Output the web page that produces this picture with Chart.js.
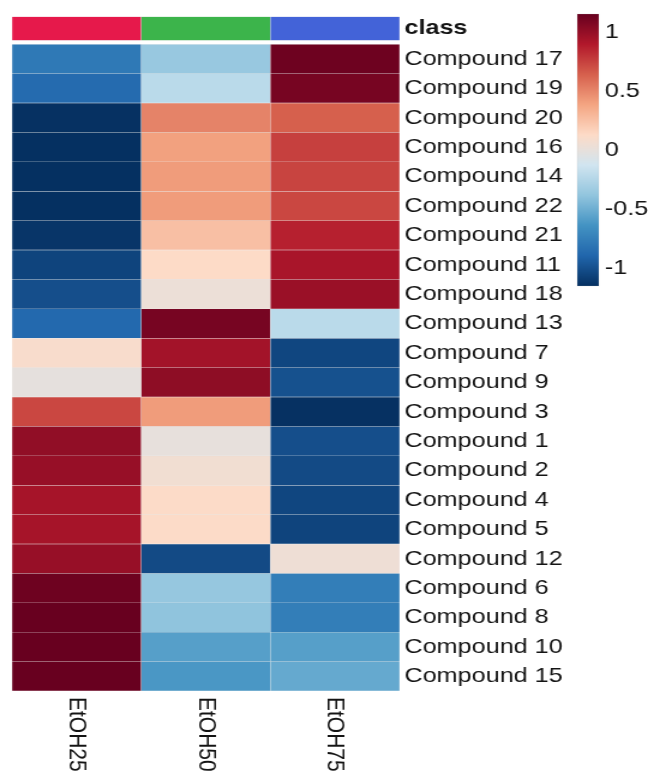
<!DOCTYPE html>
<html>
<head>
<meta charset="utf-8">
<script src="https://cdn.jsdelivr.net/npm/chart.js@4.4.1/dist/chart.umd.min.js"></script>
<style>
  html, body { margin: 0; padding: 0; background: #fff; overflow: hidden; }
  /* el lienzo se dibuja a 540 px y se estira a 648 px, como la figura original */
  #envoltura { width: 540px; height: 774px; transform: scaleX(1.2); transform-origin: 0 0; }
  #mapa-calor { display: block; }
</style>
</head>
<body>
<div id="envoltura">
<canvas id="mapa-calor" width="540" height="774"></canvas>
</div>
<script>
const COLUMNAS = ['EtOH25', 'EtOH50', 'EtOH75'];
const COLORES_CLASE = ['#E6194B', '#3CB44B', '#4363D8'];

const COMPUESTOS = [
  'Compound 17', 'Compound 19', 'Compound 20', 'Compound 16', 'Compound 14', 'Compound 22',
  'Compound 21', 'Compound 11', 'Compound 18', 'Compound 13', 'Compound 7', 'Compound 9',
  'Compound 3', 'Compound 1', 'Compound 2', 'Compound 4', 'Compound 5', 'Compound 12',
  'Compound 6', 'Compound 8', 'Compound 10', 'Compound 15',
];

// valores escalados por fila (z-score)
const ETOH25 = [-0.79, -0.87, -1.15, -1.155, -1.155, -1.155, -1.13, -1.06, -1.01, -0.88, 0.10, -0.01,
  0.73, 1.01, 0.99, 0.94, 0.94, 0.99, 1.13, 1.15, 1.15, 1.15];
const ETOH50 = [-0.36, -0.22, 0.51, 0.40, 0.42, 0.42, 0.26, 0.13, 0.03, 1.10, 0.95, 1.02,
  0.42, 0.00, 0.06, 0.12, 0.12, -1.03, -0.37, -0.39, -0.58, -0.62];
const ETOH75 = [1.13, 1.10, 0.64, 0.755, 0.74, 0.73, 0.87, 0.93, 0.98, -0.22, -1.05, -1.00,
  -1.15, -1.01, -1.03, -1.05, -1.06, 0.04, -0.76, -0.76, -0.58, -0.53];

const TICKS_LEYENDA = [1, 0.5, 0, -0.5, -1];

const PALETA = ['#053061', '#2166AC', '#4393C3', '#92C5DE', '#D1E5F0',
  '#FDDBC7', '#F4A582', '#D6604D', '#B2182B', '#67001F'];
const Z_MAX = 1.1547;

// fila de la clase, en unidades de fila, encima del mapa
const CLASE_INICIO = -0.94;
const CLASE_FIN = -0.13;

const FUENTE = '"Liberation Sans", Arial, sans-serif';
const COLOR_TEXTO = '#141414';

function hexARgb(hex) {
  const n = parseInt(hex.slice(1), 16);
  return [(n >> 16) & 255, (n >> 8) & 255, n & 255];
}

function colorValor(v) {
  const t = Math.max(0, Math.min(1, (v + Z_MAX) / (2 * Z_MAX))) * (PALETA.length - 1);
  const i = Math.min(PALETA.length - 2, Math.floor(t));
  const f = t - i;
  const a = hexARgb(PALETA[i]);
  const b = hexARgb(PALETA[i + 1]);
  const c = a.map((x, k) => Math.round(x + (b[k] - x) * f));
  return `rgb(${c[0]},${c[1]},${c[2]})`;
}

function construirDatasets() {
  const comunes = {
    grouped: false,
    barPercentage: 1,
    categoryPercentage: 1,
    borderSkipped: false,
    borderWidth: 0.5,
    borderColor: 'rgba(190,190,190,0.22)',
  };
  const clase = {
    ...comunes,
    label: 'class',
    data: COLUMNAS.map(() => [CLASE_INICIO, CLASE_FIN]),
    backgroundColor: COLORES_CLASE,
  };
  const filas = COMPUESTOS.map((nombre, i) => {
    const valores = [ETOH25[i], ETOH50[i], ETOH75[i]];
    return {
      ...comunes,
      label: nombre,
      data: COLUMNAS.map(() => [i, i + 1]),
      backgroundColor: valores.map(colorValor),
      valores,
    };
  });
  return [clase, ...filas];
}

const ETIQUETAS_FILAS = ['class', ...COMPUESTOS];

const pluginAnotaciones = {
  id: 'pluginAnotaciones',
  afterDraw(chart) {
    const { ctx, chartArea, scales } = chart;
    ctx.save();

    // etiquetas de columnas, giradas 90° en sentido horario
    ctx.font = `21px ${FUENTE}`;
    ctx.fillStyle = COLOR_TEXTO;
    ctx.textAlign = 'left';
    ctx.textBaseline = 'middle';
    COLUMNAS.forEach((col, i) => {
      const x = scales.x.getPixelForValue(i);
      ctx.save();
      ctx.translate(x, chartArea.bottom + 6);
      ctx.rotate(Math.PI / 2);
      ctx.fillText(col, 0, 0);
      ctx.restore();
    });

    // barra de color
    const bx = 481, bw = 18, btop = 14, bbottom = 286;
    const grad = ctx.createLinearGradient(0, bbottom, 0, btop);
    PALETA.forEach((c, i) => grad.addColorStop(i / (PALETA.length - 1), c));
    ctx.fillStyle = grad;
    ctx.fillRect(bx, btop, bw, bbottom - btop);
    ctx.strokeStyle = 'rgba(180,180,180,0.4)';
    ctx.lineWidth = 0.5;
    ctx.strokeRect(bx, btop, bw, bbottom - btop);

    const yLeyenda = (v) => btop + (Z_MAX - v) / (2 * Z_MAX) * (bbottom - btop);
    ctx.fillStyle = COLOR_TEXTO;
    ctx.textAlign = 'left';
    ctx.textBaseline = 'middle';
    TICKS_LEYENDA.forEach((v) => {
      ctx.fillText(String(v), bx + bw + 5, yLeyenda(v));
    });

    ctx.restore();
  },
};

new Chart(document.getElementById('mapa-calor'), {
  type: 'bar',
  data: { labels: COLUMNAS, datasets: construirDatasets() },
  options: {
    responsive: false,
    animation: false,
    layout: { padding: { top: 15, bottom: 83, left: 10, right: 0 } },
    scales: {
      x: {
        type: 'category',
        display: false,
      },
      y: {
        type: 'linear',
        position: 'right',
        reverse: true,
        min: CLASE_INICIO,
        max: COMPUESTOS.length,
        grid: { display: false, drawTicks: false },
        border: { display: false },
        afterBuildTicks(scale) {
          scale.ticks = [{ value: (CLASE_INICIO + CLASE_FIN) / 2 }]
            .concat(COMPUESTOS.map((_, i) => ({ value: i + 0.5 })));
        },
        afterFit(scale) {
          scale.width = 207;
        },
        ticks: {
          padding: 4,
          autoSkip: false,
          color: COLOR_TEXTO,
          font: (c) => ({ family: FUENTE, size: 21, weight: c.index === 0 ? 'bold' : 'normal' }),
          callback: (v, i) => ETIQUETAS_FILAS[i],
        },
      },
    },
    plugins: {
      legend: { display: false },
      tooltip: { enabled: false },
    },
  },
  plugins: [pluginAnotaciones],
});
</script>
</body>
</html>
